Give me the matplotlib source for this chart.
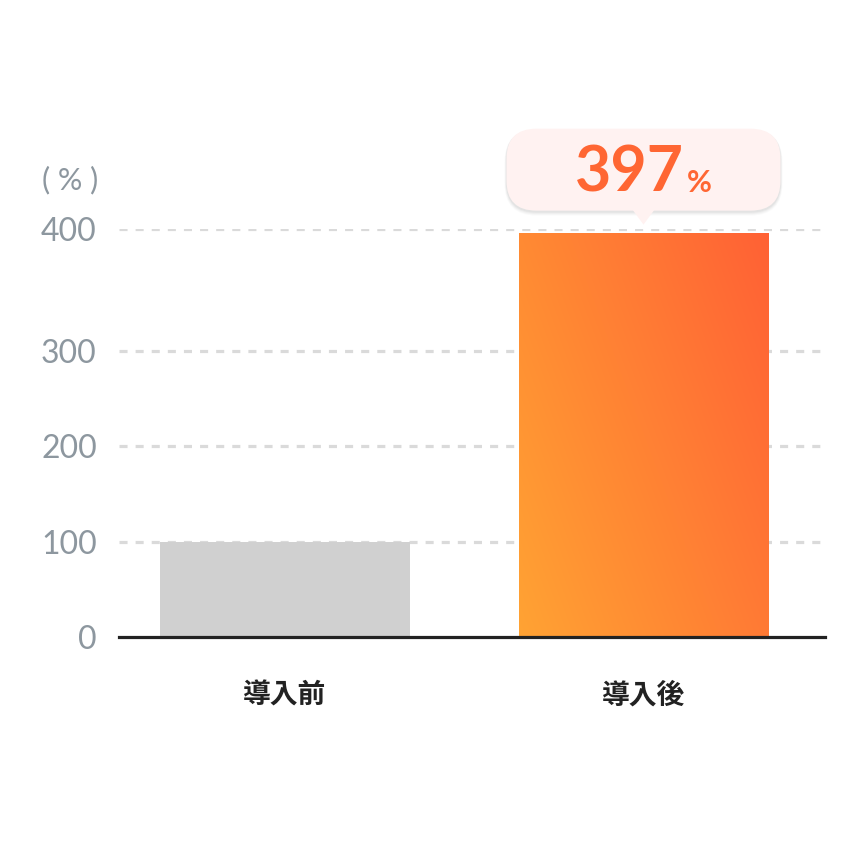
import numpy as np
import matplotlib
matplotlib.use("Agg")
import matplotlib.pyplot as plt
from matplotlib.patches import FancyBboxPatch, Polygon
from matplotlib.scale import FuncScale

# ---- data ----
categories = ["導入前", "導入後"]
values = [100, 397]
tick_values = [0, 100, 200, 300, 400]
tick_labels = ["0", "100", "200", "300", "400"]
unit_label = "( % )"
callout_number = "397"
callout_unit = "%"

# ---- layout (axis drawn with a piecewise scale like the reference) ----
tick_pos = [0, 95, 191, 286, 408]

W = H = 860
DPI = 100
fig = plt.figure(figsize=(W / DPI, H / DPI), dpi=DPI)
fig.patch.set_facecolor("white")
ax_left, ax_right, ax_bottom, ax_top = 119, 825, 637, 229
ax = fig.add_axes([ax_left / W, (H - ax_bottom) / H,
                   (ax_right - ax_left) / W, (ax_bottom - ax_top) / H])

fwd = lambda v: np.interp(v, tick_values, tick_pos)
inv = lambda p: np.interp(p, tick_pos, tick_values)
ax.set_yscale(FuncScale(ax.yaxis, (fwd, inv)))
ax.set_ylim(0, 400)

x = np.arange(len(categories))
spacing = 359.0
bar_w = 250 / spacing
ax.set_xlim(-(284.5 - ax_left) / spacing, 1 + (ax_right - 643.5) / spacing)

bars = ax.bar(x, values, width=bar_w, color=["#d0d0d0", "none"], zorder=2,
              linewidth=0)

# grid
ax.set_yticks(tick_values)
ax.set_yticklabels(tick_labels, fontfamily="Lato", fontsize=23, color="#8d979f")
ax.tick_params(axis="y", length=0, pad=16)
matplotlib.rcParams["lines.scale_dashes"] = False
for v in tick_values[1:]:
    ax.axhline(v, color="#dadada", lw=2.3, dashes=(5.8, 5.8), zorder=1)

for s in ["top", "right", "left"]:
    ax.spines[s].set_visible(False)
ax.spines["bottom"].set_color("#222222")
ax.spines["bottom"].set_linewidth(2.3)
ax.spines["bottom"].set_zorder(5)

ax.set_xticks(x)
ax.set_xticklabels(categories, fontfamily=["Noto Sans CJK JP", "DejaVu Sans"],
                   fontweight="bold", fontsize=20, color="#222222")
ax.tick_params(axis="x", length=0, pad=32)

# gradient for second bar
fig.canvas.draw()
b = bars[1]
x0, x1 = b.get_x(), b.get_x() + b.get_width()
p = ax.transData.transform([(x0, 0), (x1, values[1])])
pa = ax.transAxes.inverted().transform(p)
nw, nh = 200, 300
u = np.linspace(0, 1, nw)[None, :]
vv = np.linspace(0, 1, nh)[:, None]
bw_px = p[1, 0] - p[0, 0]
bh_px = p[1, 1] - p[0, 1]
t = (u * bw_px * 1.6 + vv * bh_px * 0.6) / (bw_px * 1.6 + bh_px * 0.6)
c0 = np.array([0xFF, 0xA3, 0x33]) / 255
c1 = np.array([0xFF, 0x61, 0x35]) / 255
img = c0[None, None, :] * (1 - t[..., None]) + c1[None, None, :] * t[..., None]
im = ax.imshow(img, extent=[pa[0, 0], pa[1, 0], pa[0, 1], pa[1, 1]],
               transform=ax.transAxes, origin="lower", aspect="auto",
               interpolation="bilinear", zorder=2)
im.set_clip_path(b)

# callout above second bar (pixel offsets from bar top)
cx, top_y = ax.transData.transform((x[1], values[1]))
box_w, box_h, r = 274, 82, 30
gap_tip = 8
tri_h, tri_half = 14, 11
box_bottom = top_y + gap_tip + tri_h
for grow, al in [(4, 0.02), (3, 0.025), (2, 0.03), (1, 0.035)]:
    sh = FancyBboxPatch((cx - box_w / 2 - grow / 2, box_bottom - grow - 1),
                        box_w + grow, box_h + grow,
                        boxstyle=f"round,pad=0,rounding_size={r + grow / 2}",
                        transform=None, facecolor="#000000", edgecolor="none",
                        alpha=al, zorder=6)
    fig.patches.append(sh)
box = FancyBboxPatch((cx - box_w / 2, box_bottom), box_w, box_h,
                     boxstyle=f"round,pad=0,rounding_size={r}",
                     transform=None, facecolor="#fff2f1", edgecolor="none",
                     zorder=7)
fig.patches.append(box)
tri = Polygon([(cx - tri_half, box_bottom + 1), (cx + tri_half, box_bottom + 1),
               (cx, top_y + gap_tip)], closed=True, transform=None,
              facecolor="#fff2f1", edgecolor="none", zorder=7)
fig.patches.append(tri)

fx, fy = fig.transFigure.inverted().transform((cx, box_bottom + 19))
t1 = fig.text(fx, fy, callout_number, fontfamily="Lato", fontweight="bold",
              fontsize=45, color="#ff6633", ha="right", va="baseline", zorder=8)
t2 = fig.text(fx, fy, callout_unit, fontfamily="Lato", fontweight="bold",
              fontsize=22, color="#ff6633", ha="left", va="baseline", zorder=8)
fig.canvas.draw()
r1 = t1.get_window_extent()
r2 = t2.get_window_extent()
total = r1.width + 3 + r2.width
left = cx - total / 2
t1.set_x(fig.transFigure.inverted().transform((left + r1.width, 0))[0])
t2.set_x(fig.transFigure.inverted().transform((left + r1.width + 3, 0))[0])

# unit label
fig.text(98 / W, 1 - 180 / H, unit_label, fontfamily="Lato", fontsize=22,
         color="#8d979f", ha="right", va="center")

fig.savefig("out.png", dpi=DPI, facecolor="white")
